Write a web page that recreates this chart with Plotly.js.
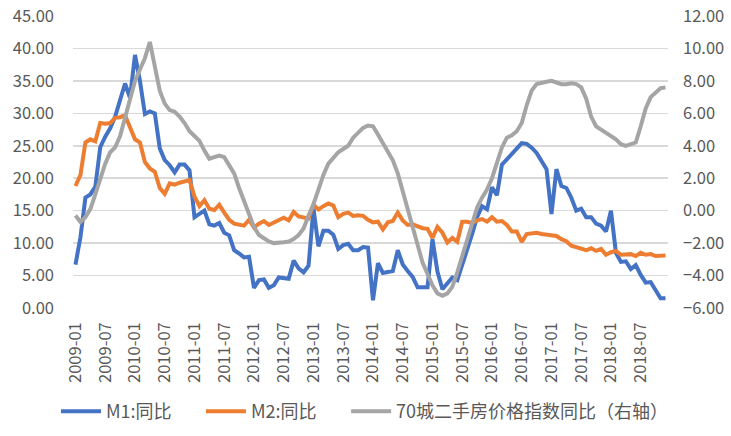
<!DOCTYPE html>
<html>
<head>
<meta charset="utf-8">
<script src="https://cdn.plot.ly/plotly-3.0.1.min.js"></script>
<style>
html,body{margin:0;padding:0;background:#fff;}
#chart{width:731px;height:436px;}
</style>
</head>
<body>
<div id="chart"></div>
<script>
// Months 2009-01 .. 2018-12
const years = [2009,2010,2011,2012,2013,2014,2015,2016,2017,2018];
const months = [];
years.forEach(y => { for (let m = 1; m <= 12; m++) months.push(y + '-' + (m < 10 ? '0' + m : m)); });

// Tick labels shown on the category axis
const tickLabels = ['2009-01','2009-07','2010-01','2010-07','2011-01','2011-07','2012-01','2012-07',
  '2013-01','2013-07','2014-01','2014-07','2015-01','2015-07','2016-01','2016-07',
  '2017-01','2017-07','2018-01','2018-07'];

// M1 同比 (%)
const m1 = [
  6.7, 10.9, 17.0, 17.5, 18.7, 24.8, 26.4, 27.7, 29.5, 32.0, 34.6, 32.4,
  39.0, 35.0, 29.9, 30.3, 30.0, 24.6, 22.8, 22.0, 20.9, 22.1, 22.1, 21.2,
  14.0, 14.5, 15.0, 12.9, 12.7, 13.1, 11.6, 11.2, 8.9, 8.4, 7.8, 7.9,
  3.1, 4.3, 4.4, 3.1, 3.5, 4.7, 4.6, 4.5, 7.3, 6.1, 5.5, 6.5,
  15.3, 9.5, 11.9, 11.9, 11.3, 9.1, 9.7, 9.9, 8.9, 8.9, 9.4, 9.3,
  1.2, 6.9, 5.4, 5.5, 5.7, 8.9, 6.7, 5.7, 4.8, 3.2, 3.2, 3.2,
  10.6, 5.6, 2.9, 3.7, 4.7, 4.3, 6.6, 9.3, 11.4, 14.0, 15.7, 15.2,
  18.6, 17.4, 22.1, 22.9, 23.7, 24.6, 25.4, 25.3, 24.7, 23.9, 22.7, 21.4,
  14.5, 21.4, 18.8, 18.5, 17.0, 15.0, 15.3, 14.0, 14.0, 13.0, 12.7, 11.8,
  15.0, 8.5, 7.1, 7.2, 6.0, 6.6, 5.1, 3.9, 4.0, 2.7, 1.5, 1.5
];

// M2 同比 (%)
const m2 = [
  18.8, 20.5, 25.5, 26.0, 25.7, 28.5, 28.4, 28.5, 29.3, 29.4, 29.7, 27.7,
  26.0, 25.5, 22.5, 21.5, 21.0, 18.5, 17.6, 19.2, 19.0, 19.3, 19.5, 19.7,
  17.2, 15.7, 16.6, 15.3, 15.1, 15.9, 14.7, 13.6, 13.0, 12.9, 12.7, 13.6,
  12.4, 13.0, 13.4, 12.8, 13.2, 13.6, 13.9, 13.5, 14.8, 14.1, 13.9, 13.8,
  15.9, 15.2, 15.7, 16.1, 15.8, 14.0, 14.5, 14.7, 14.2, 14.3, 14.2, 13.6,
  13.2, 13.3, 12.1, 13.2, 13.4, 14.7, 13.5, 12.8, 12.9, 12.6, 12.3, 12.2,
  10.8, 12.5, 11.6, 10.1, 10.8, 10.2, 13.3, 13.3, 13.1, 13.5, 13.7, 13.3,
  14.0, 13.3, 13.4, 12.8, 11.8, 11.8, 10.2, 11.4, 11.5, 11.6, 11.4, 11.3,
  11.3, 11.1, 10.6, 10.3, 9.6, 9.4, 9.2, 8.9, 9.2, 8.8, 9.1, 8.2,
  8.6, 8.8, 8.2, 8.3, 8.3, 8.0, 8.5, 8.2, 8.3, 8.0, 8.0, 8.1
];

// 70城二手房价格指数同比 (%, right axis)
const house = [
  -0.3, -0.7, -0.4, 0.1, 1.0, 2.0, 2.9, 3.6, 3.9, 4.6, 5.7, 7.0,
  8.0, 8.7, 9.4, 10.4, 9.0, 7.4, 6.6, 6.2, 6.1, 5.8, 5.4, 4.9,
  4.6, 4.3, 3.7, 3.2, 3.3, 3.4, 3.3, 2.8, 2.3, 1.4, 0.6, -0.2,
  -1.0, -1.5, -1.7, -1.9, -2.0, -2.0, -1.95, -1.9, -1.75, -1.5, -1.1, -0.3,
  0.4, 1.3, 2.2, 2.9, 3.3, 3.6, 3.8, 4.0, 4.5, 4.8, 5.1, 5.25,
  5.2, 4.7, 4.2, 3.6, 3.1, 2.3, 1.2, 0.0, -1.1, -2.3, -3.2, -3.9,
  -4.6, -5.1, -5.25, -5.1, -4.7, -3.8, -2.8, -1.8, -0.7, 0.2, 0.8, 1.3,
  2.0, 3.0, 3.9, 4.5, 4.65, 4.9, 5.4, 6.5, 7.4, 7.8, 7.9, 7.95,
  8.0, 7.9, 7.8, 7.8, 7.85, 7.8, 7.6, 6.9, 5.8, 5.2, 5.0, 4.8,
  4.6, 4.4, 4.1, 4.0, 4.1, 4.2, 5.2, 6.3, 7.0, 7.3, 7.55, 7.6
];

const seriesNames = ['M1:同比', 'M2:同比', '70城二手房价格指数同比（右轴）'];
const colors = ['#4472C4', '#ED7D31', '#A5A5A5'];

const fontFam = '"Noto Sans CJK SC", "Noto Sans", sans-serif';
const txtColor = '#595959';

const traces = [
  {x: months, y: m1, name: seriesNames[0], type: 'scatter', mode: 'lines',
   line: {color: colors[0], width: 4}, yaxis: 'y', legend: 'legend'},
  {x: months, y: m2, name: seriesNames[1], type: 'scatter', mode: 'lines',
   line: {color: colors[1], width: 4}, yaxis: 'y', legend: 'legend2'},
  {x: months, y: house, name: seriesNames[2], type: 'scatter', mode: 'lines',
   line: {color: colors[2], width: 4}, yaxis: 'y2', legend: 'legend3'}
];

function legendAt(x) {
  return {
    orientation: 'h', x: x, xanchor: 'left',
    yref: 'container', y: 0.056, yanchor: 'middle',
    font: {family: fontFam, size: 18, color: txtColor},
    bgcolor: 'rgba(0,0,0,0)', itemwidth: 40
  };
}

const layout = {
  width: 731, height: 436,
  margin: {l: 73, r: 63, t: 16, b: 128},
  paper_bgcolor: '#ffffff', plot_bgcolor: '#ffffff',
  font: {family: fontFam, color: txtColor, size: 16},
  showlegend: true,
  legend: legendAt(-0.0286),
  legend2: legendAt(0.215),
  legend3: legendAt(0.459),
  xaxis: {
    type: 'category', categoryorder: 'array', categoryarray: months,
    range: [-0.5, 119.5], automargin: false,
    tickmode: 'array', tickvals: tickLabels, ticktext: tickLabels,
    tickangle: -90, ticks: '', showgrid: false, showline: false, zeroline: false,
    tickfont: {family: fontFam, size: 16.5, color: txtColor},
    ticklabelstandoff: 10
  },
  yaxis: {
    range: [0, 45], dtick: 5, tick0: 0, tickformat: '.2f', automargin: false,
    showgrid: true, gridcolor: '#D9D9D9', gridwidth: 1.5,
    zeroline: false, showline: false, ticks: '',
    tickfont: {family: fontFam, size: 16.5, color: txtColor},
    ticklabelstandoff: 18
  },
  yaxis2: {
    overlaying: 'y', side: 'right', automargin: false,
    range: [-6, 12], dtick: 2, tick0: -6, tickformat: '.2f',
    showgrid: false, zeroline: false, showline: false, ticks: '',
    tickfont: {family: fontFam, size: 16.5, color: txtColor},
    ticklabelstandoff: 14
  }
};

Plotly.newPlot('chart', traces, layout, {displayModeBar: false, staticPlot: true});
</script>
</body>
</html>
